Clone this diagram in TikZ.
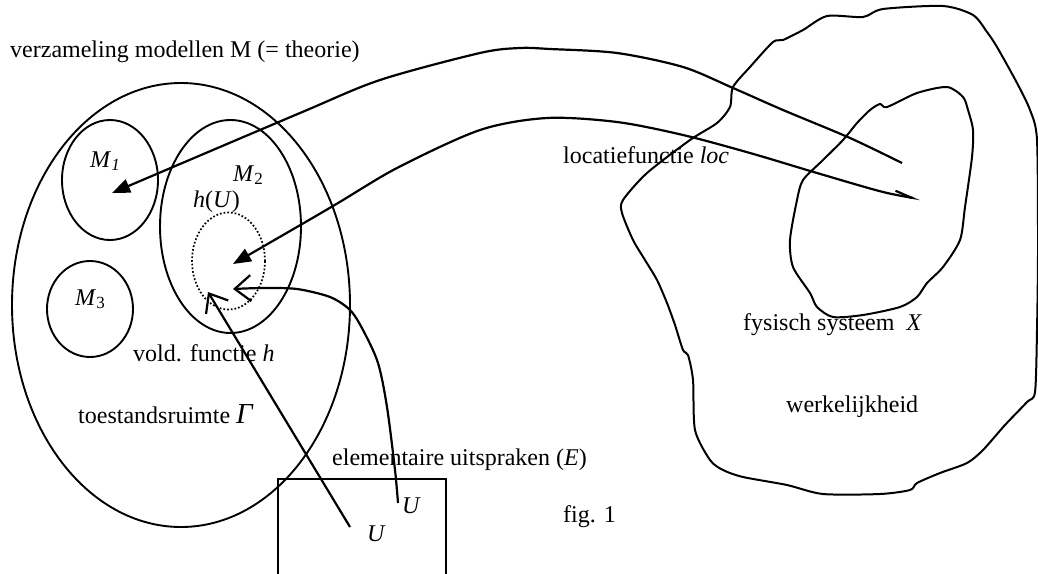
\documentclass[tikz,border=0pt]{standalone}
\usepackage{fontspec}
\setmainfont{Liberation Serif}
\usetikzlibrary{shapes.geometric,arrows.meta}
\begin{document}
\begin{tikzpicture}[x=1pt,y=-1pt,
  oval/.style={draw,ellipse,inner sep=0pt,line width=1.9pt},
  lbl/.style={anchor=base west,inner sep=0pt,font=\fontsize{24}{28}\selectfont},
  conn/.style={line width=2.2pt},
  fill tip/.style={-{Triangle[length=18pt,width=14pt]}},
  open tip/.style={-{Straight Barb[length=16pt,width=26pt,line width=2.2pt]}},
  blob/.style={line width=2pt,line join=round}
]
\useasboundingbox (0,0) rectangle (1038,573);
% ovals
\node[oval,minimum width=338pt,minimum height=444pt] (gamma) at (181,305) {};
\node[oval,minimum width=96pt,minimum height=120pt] (m1) at (110,180) {};
\node[oval,minimum width=141pt,minimum height=213pt] (m2) at (230.5,226.5) {};
\node[oval,minimum width=86pt,minimum height=96pt] (m3) at (90,309) {};
\node[draw,ellipse,inner sep=0pt,dotted,line width=1.7pt,minimum width=73pt,minimum height=97pt] (hu) at (228.5,261) {};
% box of elementary statements
\draw[line width=1.7pt] (278,576) |- (446,479) -- (446,576);
% reality blobs
\draw[blob] plot[smooth cycle,tension=0.45] coordinates {
 (827,16) (863,17) (883,9) (943,6) (973,15) (987,32) (997,47) (1017,83) (1030,110)
 (1037,140) (1038,250) (1037,330) (1035,392) (1027,402) (1005,425) (983,450) (967,463)
 (940,473) (917,483) (910,490) (880,494) (823,494) (787,485) (743,477) (723,470) (710,460)
 (695,430) (693,380) (688,355) (683,350) (675,325) (667,303) (657,280) (645,260) (633,240)
 (622,213) (623,200) (647,173) (690,140) (717,123) (730,107) (733,87) (750,67) (773,42)
 (783,40) (803,30)};
\draw[blob] plot[smooth cycle,tension=0.45] coordinates {
 (870,110) (880,104) (887,107) (917,93) (947,87) (963,97) (968,110) (973,130) (972,157)
 (965,207) (960,240) (943,267) (927,283) (917,297) (900,307) (863,315) (833,317) (817,307)
 (810,293) (793,267) (790,240) (797,200) (803,180) (823,160) (843,140) (857,123)};
% anchor points
\coordinate (a1) at (902,163);
\coordinate (e1) at (112,193);
\coordinate (a2) at (920,199);
\coordinate (e2) at (233,264);
\coordinate (u1) at (350,527);
\coordinate (t1) at (208,292);
\coordinate (u2) at (398,503);
\coordinate (t2) at (233,289);
% connectors
\draw[conn,fill tip] plot[smooth,tension=0.5] coordinates {
 (a1) (850,138) (783,110) (733,88) (683,67) (617,53) (550,49) (520,48) (480,53) (380,80) (300,113) (e1)};
\draw[conn,{Triangle[length=18pt,width=14pt]}-{Straight Barb[left,length=17pt,width=9pt,line width=2.2pt]}] plot[smooth,tension=0.5] coordinates {
 (e2) (333,206) (397,168) (480,130) (547,118) (617,122) (683,135) (750,153) (817,173) (883,192) (a2)};
\draw[conn,open tip] (u1) -- (t1);
\draw[conn,open tip] plot[smooth,tension=0.5] coordinates {
 (u2) (395,470) (387,407) (378,363) (363,330) (350,310) (330,297) (297,289) (263,288) (t2)};
% labels
\node[lbl] (tverz) at (10,57) {verzameling modellen M (= theorie)};
\node[lbl] (tloc) at (563,163) {locatiefunctie \textit{loc}};
\node[lbl] (tfys) at (743,330) {fysisch systeem\ \ \textit{X}};
\node[lbl] (twerk) at (786,412) {werkelijkheid};
\node[lbl] (telem) at (332,465) {elementaire uitspraken (\textit{E})};
\node[lbl] (tfig) at (563,522) {fig. 1};
\node[lbl] (tvold) at (133,361) {vold. functie \textit{h}};
\node[lbl] (ttoes) at (78,423) {toestandsruimte {\fontsize{29}{30}\selectfont\itshape Γ}};
\node[lbl] (tm1) at (90,167) {\textit{M}\raisebox{-0.3ex}{\fontsize{17}{17}\selectfont\itshape 1}};
\node[lbl] (tm2) at (233,181) {\textit{M}\raisebox{-0.3ex}{\fontsize{17}{17}\selectfont 2}};
\node[lbl] (tm3) at (75,305) {\textit{M}\raisebox{-0.3ex}{\fontsize{17}{17}\selectfont 3}};
\node[lbl] (thu) at (193,207) {\textit{h}(\textit{U})};
\node[lbl] (tu1) at (402,513) {\textit{U}};
\node[lbl] (tu2) at (367,541) {\textit{U}};
\end{tikzpicture}
\end{document}
